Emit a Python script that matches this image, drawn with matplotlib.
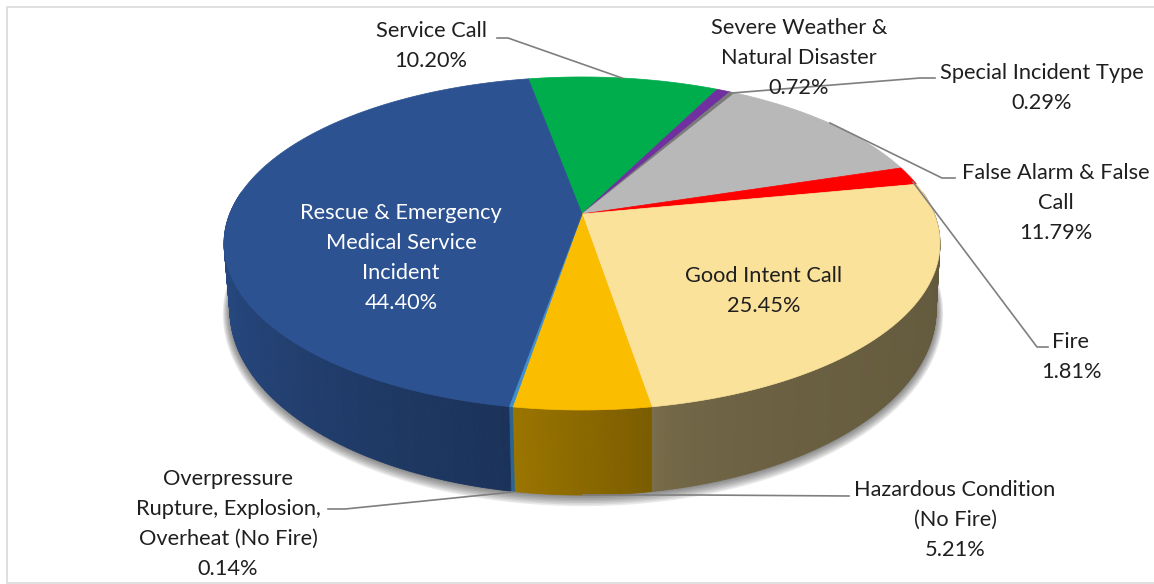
import numpy as np
import matplotlib
matplotlib.use("Agg")
import matplotlib.pyplot as plt
from matplotlib.patches import Polygon
from matplotlib.collections import PolyCollection

# ---- data (clockwise from the top of the pie) ----
categories = ["Service Call", "Severe Weather &\nNatural Disaster", "Special Incident Type",
              "False Alarm & False\nCall", "Fire", "Good Intent Call",
              "Hazardous Condition\n(No Fire)", "Overpressure\nRupture, Explosion,\nOverheat (No Fire)",
              "Rescue & Emergency\nMedical Service\nIncident"]
values = [10.20, 0.72, 0.29, 11.79, 1.81, 25.45, 5.21, 0.14, 44.40]
colors = ["#00AD4D", "#7030A0", "#7A7A7A", "#B8B8B8", "#FF0000", "#FBE29A", "#FBBD00", "#3F8FD0", "#2C5291"]

# ---- layout ----
W, H = 1154, 584
START = 100.3
K = 0.177
TOP = dict(cx=582.0, cy=214.0, a=161.3, b=352.3)
BOT = dict(cx=583.0, cy=277.3, a=179.2, b=347.5)
SIDE_SHADE = {5: (0.53, 0.39, 0.2), 6: (0.62, 0.49, 1.0), 7: (0.70, 0.70, 1.0), 8: (0.98, 0.62, 1.0)}
GRID = "#D9D9D9"
LEADER = "#7F7F7F"
TEXT = "#1F1F1F"
FS = 15.7
LS = 1.62

label_pos = {0: (431, 46), 1: (799, 58), 2: (1042, 88), 3: (1056, 203), 4: (1071, 357),
             5: (764, 291), 6: (955, 520), 7: (228, 524), 8: (401, 258)}
leaders = [[(497, 38), (508, 38), (622, 78)],
           [(935, 78), (920, 78), (732, 93)],
           [(955, 178), (942, 178), (830, 123)],
           [(1048, 347), (1037, 347), (913, 182)],
           [(849, 496), (700, 495), (583, 495)],
           [(328, 509), (345, 509), (513, 492)]]


def project(theta_deg, p):
    t = np.radians(theta_deg)
    X, Y = np.cos(t), np.sin(t)
    d = 1 + K * Y
    return np.column_stack([p["cx"] + p["b"] * X / d, p["cy"] - p["a"] * Y / d])


fig = plt.figure(figsize=(W / 100, H / 100), dpi=100, facecolor="white")
ax = fig.add_axes([0, 0, 1, 1])
ax.set_xlim(0, W)
ax.set_ylim(H, 0)
ax.axis("off")

# frame
ax.plot([W, 6.5, 6.5, W], [7, 7, 583, 583], color=GRID, lw=1.2, zorder=0)

# angles from values
fr = np.array(values) / sum(values) * 360.0
ends = START - np.cumsum(fr)
starts = ends + fr

# soft shadow below the pie
rim = project(np.linspace(0, 360, 361), BOT)
c = np.array([BOT["cx"], 312.0])
for d in np.arange(7, 0, -1):
    pts = c + (rim - c) * (1 + np.array([d / 350, d / 185])) + np.array([0, d * 0.6])
    ax.add_patch(Polygon(pts, closed=True, fc="#303030", ec="none", alpha=0.10, zorder=1))

# side walls
FRONT = (172.0, 368.0)
for i, (a1, a2) in enumerate(zip(starts, ends)):
    if i not in SIDE_SHADE:
        continue
    lo, hi = a2, a1
    while hi < FRONT[0]:
        lo += 360
        hi += 360
    lo, hi = max(lo, FRONT[0]), min(hi, FRONT[1])
    if hi <= lo:
        continue
    n = max(2, int((hi - lo) * 2))
    th = np.linspace(lo, hi, n + 1)
    s0, s1, gamma = SIDE_SHADE[i]
    base = np.array(matplotlib.colors.to_rgb(colors[i]))
    polys, cols = [], []
    T, B = project(th, TOP), project(th, BOT)
    for j in range(n):
        polys.append([T[j], T[j + 1], B[j + 1], B[j]])
        u = (j + 0.5) / n
        cols.append(base * (s0 + (s1 - s0) * u ** gamma))
    ax.add_collection(PolyCollection(polys, facecolors=cols, edgecolors=cols, linewidths=0.6, zorder=2))

# top faces
centre = np.array([[TOP["cx"], TOP["cy"]]])
for i, (a1, a2) in enumerate(zip(starts, ends)):
    arc = project(np.linspace(a1, a2, max(3, int(abs(a1 - a2) * 2))), TOP)
    ax.add_patch(Polygon(np.vstack([centre, arc]), closed=True, fc=colors[i], ec=colors[i], lw=0.5, zorder=3))

# leader lines
for pts in leaders:
    xs, ys = zip(*pts)
    ax.plot(xs, ys, color=LEADER, lw=1.2, zorder=4, solid_joinstyle="round")

# labels
for i, (name, v) in enumerate(zip(categories, values)):
    x, y = label_pos[i]
    ax.text(x, y, f"{name}\n{v:.2f}%", ha="center", va="center", multialignment="center",
            family=["Lato", "DejaVu Sans"], fontsize=FS, linespacing=LS,
            color="white" if i == 8 else TEXT, zorder=5)

fig.savefig("out.png", dpi=100, facecolor="white")
